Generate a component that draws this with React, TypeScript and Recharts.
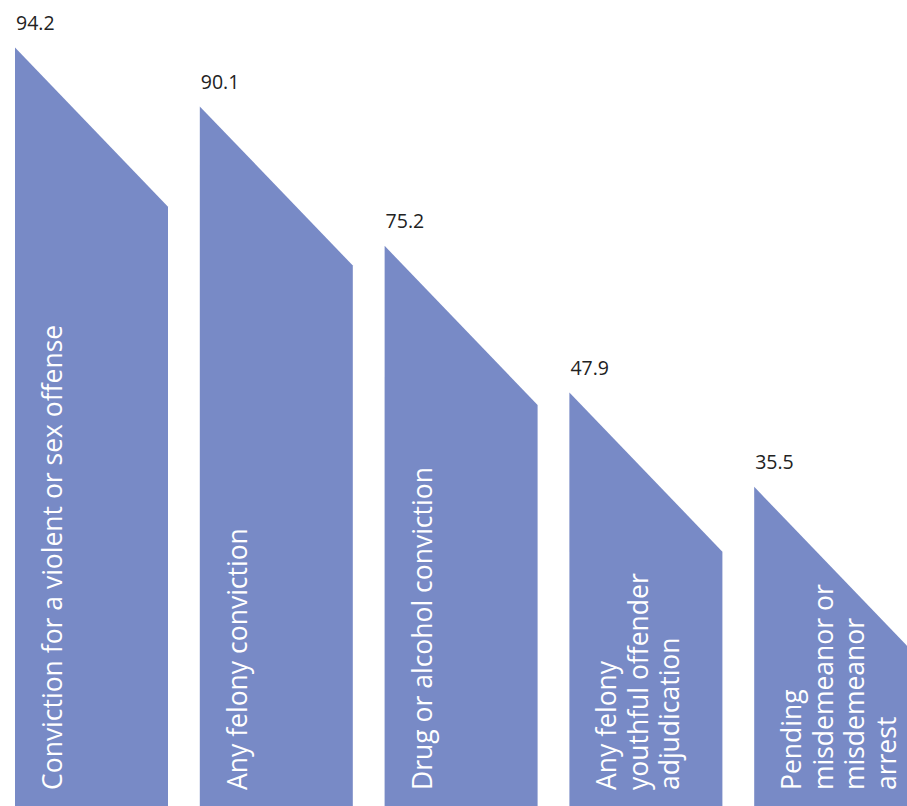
import React from "react";
import { BarChart, Bar, XAxis, YAxis } from "recharts";

// Categories (as drawn inside each bar, one entry per line)
const categories: string[] = [
  "Conviction for a violent or sex offense",
  "Any felony conviction",
  "Drug or alcohol conviction",
  "Any felony youthful offender adjudication",
  "Pending misdemeanor or misdemeanor arrest",
];
const categoryLines: string[][] = [
  ["Conviction for a violent or sex offense"],
  ["Any felony conviction"],
  ["Drug or alcohol conviction"],
  ["Any felony", "youthful offender", "adjudication"],
  ["Pending", "misdemeanor or", "misdemeanor", "arrest"],
];
// Printed values
const values: number[] = [94.2, 90.1, 75.2, 47.9, 35.5];
// Drawn bar level (the infographic's bar heights, 0-100 of chart height)
const barLevels: number[] = [94.1, 86.8, 69.5, 51.3, 39.6];

const data = categories.map((c, i) => ({
  name: c,
  lines: categoryLines[i],
  value: values[i],
  level: barLevels[i],
}));

const BAR_COLOR = "#788AC6";
const FONT = "'Open Sans', sans-serif";

const SlantBar = (props: any) => {
  const { x, y, width, height, payload } = props;
  const bottom = y + height;
  const drop = width * 1.04;
  const d = `M${x},${y} L${x + width},${y + drop} L${x + width},${bottom} L${x},${bottom} Z`;
  const lines: string[] = payload.lines;
  const textBottom = bottom - 16;
  return (
    <g>
      <path d={d} fill={BAR_COLOR} stroke="none" />
      <text
        x={x + 1}
        y={y - 17.7}
        fill="#222222"
        fontFamily={FONT}
        fontSize={19.5}
        textAnchor="start"
      >
        {payload.value.toFixed(1)}
      </text>
      {lines.map((ln, k) => {
        const bx = x + 47 + k * 31.5;
        return (
          <text
            key={k}
            x={bx}
            y={textBottom}
            transform={`rotate(-90, ${bx}, ${textBottom})`}
            fill="#ffffff"
            fontFamily={FONT}
            fontSize={26.5}
            textAnchor="start"
          >
            {ln}
          </text>
        );
      })}
    </g>
  );
};

export default function App() {
  return (
    <div
      style={{
        position: "absolute",
        left: 0,
        top: 0,
        width: 907,
        height: 806,
        overflow: "hidden",
        background: "#ffffff",
      }}
    >
      <div style={{ position: "relative", left: -1 }}>
        <BarChart
          width={924}
          height={806}
          data={data}
          margin={{ top: 0, right: 0, left: 0, bottom: 0 }}
          barSize={153}
        >
          <XAxis dataKey="name" hide />
          <YAxis hide domain={[0, 100]} />
          <Bar dataKey="level" isAnimationActive={false} shape={SlantBar} />
        </BarChart>
      </div>
    </div>
  );
}
